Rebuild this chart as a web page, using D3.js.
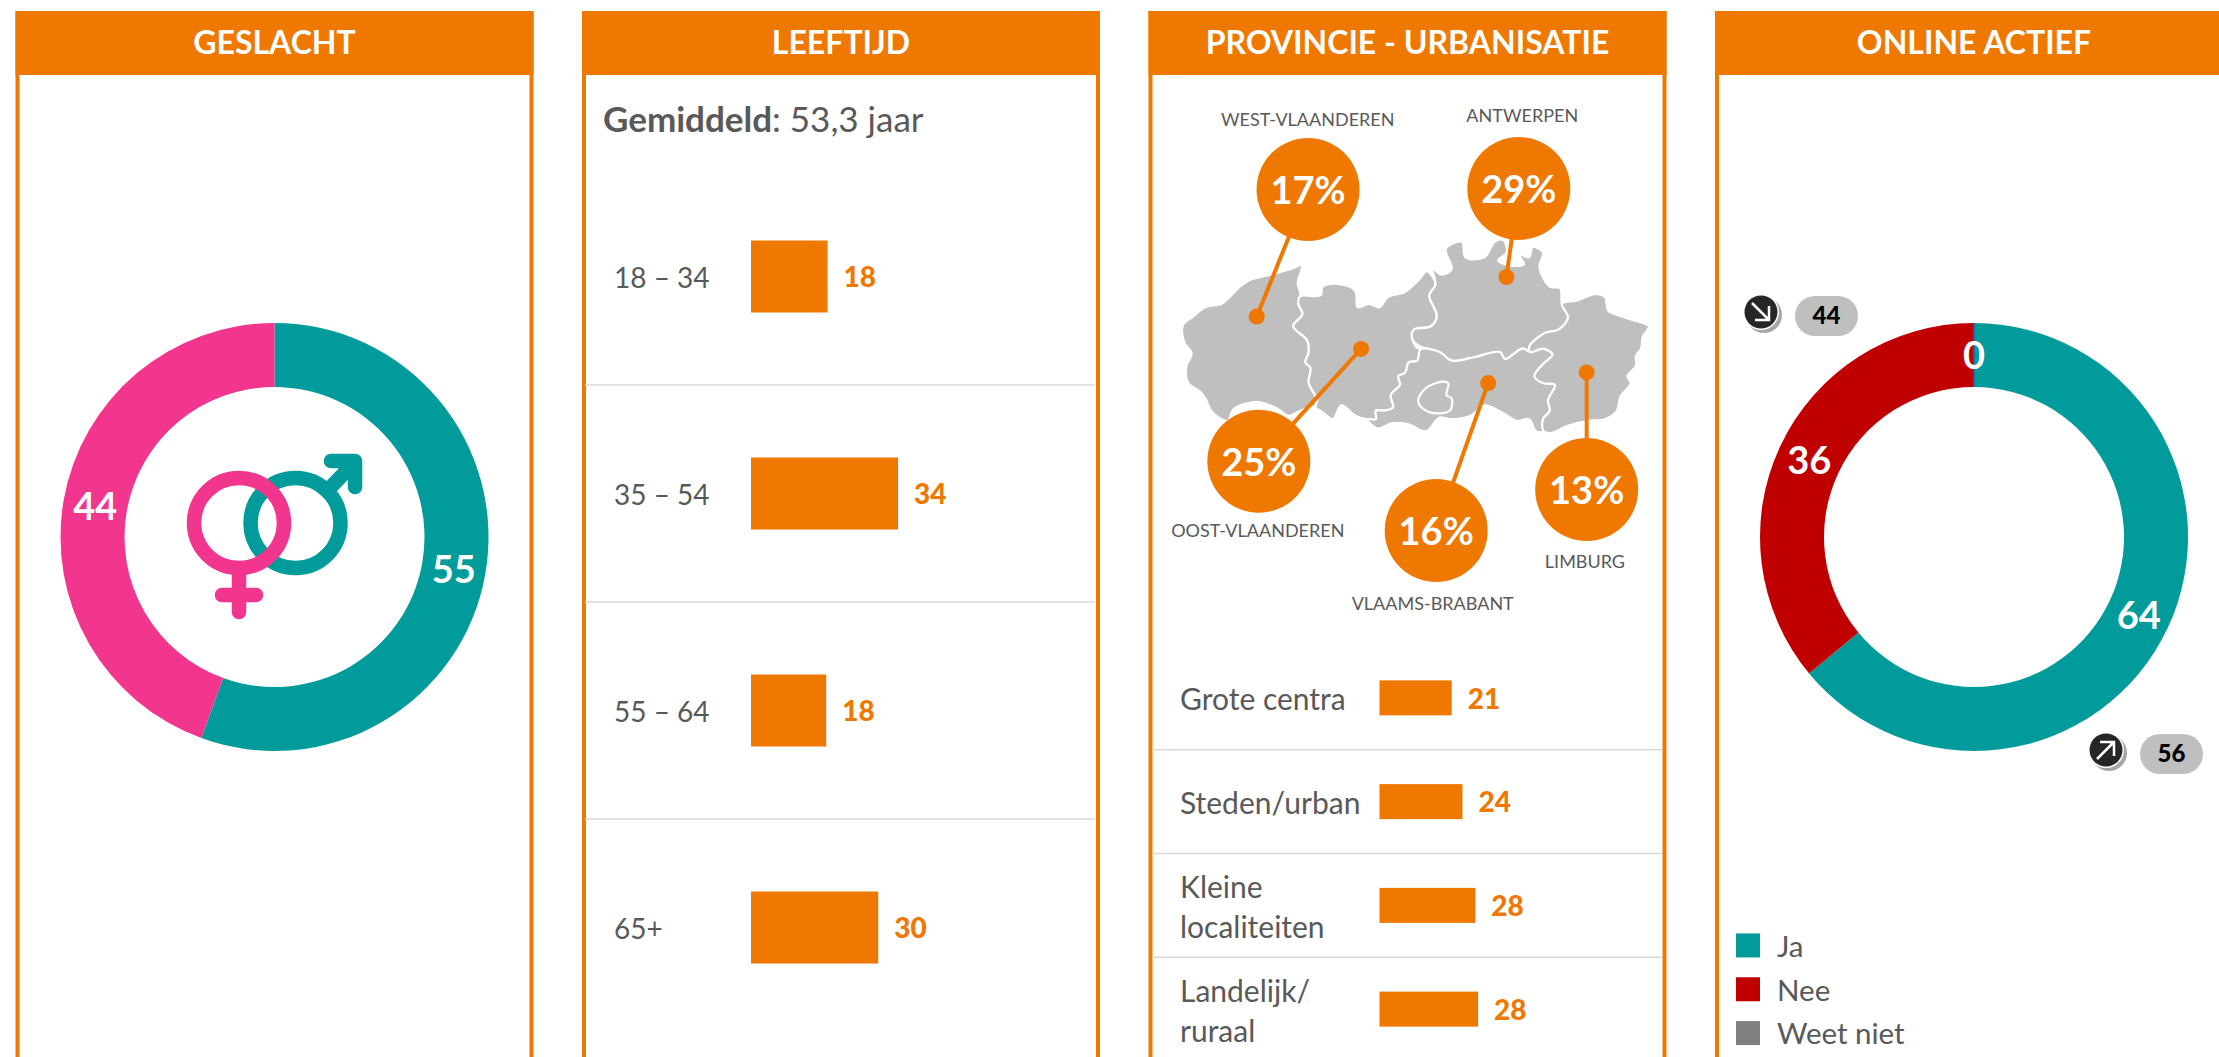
<!DOCTYPE html>
<html>
<head>
<meta charset="utf-8">
<script src="https://cdnjs.cloudflare.com/ajax/libs/d3/7.8.5/d3.min.js"></script>
<style>
    body { margin: 0; background: #fff; overflow: hidden; }
    svg { display: block; }
    text { font-family: Lato, "Open Sans", sans-serif; }
</style>
</head>
<body>
<div class="chart"></div>
<script>
const panelTitles = ['GESLACHT', 'LEEFTIJD', 'PROVINCIE - URBANISATIE', 'ONLINE ACTIEF'];

const genderLabels = ['Man', 'Vrouw'];
const genderValues = [55, 44];

const ageLabels = ['18 – 34', '35 – 54', '55 – 64', '65+'];
const ageValues = [17.8, 34.2, 17.5, 29.6];

const provinceNames = ['WEST-VLAANDEREN', 'ANTWERPEN', 'OOST-VLAANDEREN', 'VLAAMS-BRABANT', 'LIMBURG'];
const provinceValues = [17, 29, 25, 16, 13];

const urbanLabels = ['Grote centra', 'Steden/urban', 'Kleine|localiteiten', 'Landelijk/|ruraal'];
const urbanValues = [20.8, 23.9, 27.6, 28.4];

const onlineLabels = ['Ja', 'Nee', 'Weet niet'];
const onlineValues = [64, 36, 0];
const onlineBadges = [44, 56];

// map outlines (in 1568px crop units)
const westVl = [[125,710],[150,690],[190,660],[240,648],[290,600],[320,580],[380,565],[440,548],[470,538],[458,590],[466,620],[460,650],[472,680],[445,715],[485,755],[490,790],[480,820],[495,835],[490,880],[510,920],[510,945],[470,958],[430,975],[400,955],[345,935],[300,942],[270,958],[255,990],[210,965],[190,925],[175,905],[140,880],[135,830],[150,795],[128,760]];
const oostVl = [[465,628],[525,625],[530,600],[575,592],[625,612],[632,660],[665,650],[695,660],[720,630],[770,615],[810,580],[832,555],[845,565],[858,595],[840,625],[862,685],[845,715],[795,725],[790,750],[805,778],[815,782],[805,815],[780,820],[770,850],[750,860],[755,885],[728,915],[735,950],[710,960],[685,960],[685,985],[660,985],[625,975],[585,945],[560,985],[530,965],[510,950],[515,930],[490,880],[495,835],[480,820],[490,790],[485,755],[445,715],[472,680],[460,650]];
const antwerpen = [[850,548],[875,565],[905,550],[888,490],[935,470],[945,515],[1000,515],[1030,470],[1055,465],[1065,500],[1040,525],[1090,540],[1115,535],[1100,505],[1130,515],[1140,485],[1170,500],[1160,545],[1190,600],[1220,605],[1225,650],[1243,690],[1215,725],[1175,735],[1130,775],[1135,790],[1110,780],[1060,810],[1045,790],[970,805],[905,815],[870,790],[810,772],[790,750],[795,725],[845,715],[862,685],[840,625],[858,595]];
const vlBrabant = [[815,782],[870,790],[905,815],[970,805],[1045,790],[1060,810],[1110,780],[1135,790],[1170,780],[1198,797],[1170,825],[1145,860],[1170,880],[1205,885],[1185,930],[1190,960],[1170,985],[1172,1020],[1150,1020],[1130,985],[1095,990],[1050,965],[1000,945],[960,975],[900,985],[870,980],[830,1020],[780,1000],[730,997],[690,1012],[660,985],[685,985],[685,960],[710,960],[735,950],[728,915],[755,885],[750,860],[770,850],[780,820],[805,815]];
const brussel = [[820,905],[860,880],[895,880],[890,915],[905,925],[900,960],[860,968],[830,960],[808,935]];
const limburg = [[1225,650],[1270,640],[1320,622],[1350,630],[1360,670],[1395,685],[1440,700],[1478,715],[1460,745],[1455,780],[1440,800],[1440,830],[1415,860],[1425,880],[1395,920],[1385,960],[1350,985],[1300,990],[1240,1005],[1195,1025],[1172,1020],[1170,985],[1190,960],[1185,930],[1205,885],[1170,880],[1145,860],[1170,825],[1198,797],[1170,780],[1135,790],[1130,775],[1175,735],[1215,725],[1243,690]];

// same order as provinceNames
const bubblePos = [[488,318],[1100,315],[345,1107],[860,1308],[1297,1189]];
const dotPos = [[339,687],[1064,572],[642,781],[1011,880],[1297,849]];
const namePos = [[487,116],[1110,105],[342,1310],[850,1520],[1292,1400]];

const orange = '#EF7800';
const teal = '#009B9A';
const pink = '#F2358D';
const red = '#C00000';
const grey = '#595959';

const width = 2219;
const height = 1057;
const svg = d3.select('.chart')
    .append('svg')
    .attr('width', width)
    .attr('height', height);

// panels
const panelX = d3.scaleBand()
    .domain(panelTitles)
    .range([15.5, 15.5 + 4 * 566.5])
    .paddingInner(0);
const panelW = 518;
const panels = svg.selectAll('.panel')
    .data(panelTitles)
    .enter()
    .append('g')
    .attr('class', 'panel')
    .attr('transform', d => `translate(${panelX(d)},11)`);
panels.append('rect')
    .attr('x', 2)
    .attr('y', 2)
    .attr('width', panelW - 4)
    .attr('height', 1100)
    .attr('fill', '#fff')
    .attr('stroke', orange)
    .attr('stroke-width', 4);
panels.append('rect')
    .attr('width', panelW)
    .attr('height', 64)
    .attr('fill', orange);
panels.append('text')
    .attr('x', panelW / 2)
    .attr('y', 32)
    .attr('dy', '.35em')
    .attr('text-anchor', 'middle')
    .attr('font-size', 32)
    .attr('font-weight', 700)
    .attr('fill', '#fff')
    .text(d => d);

// donuts
function donut(cx, cy, values, colors) {
    const pie = d3.pie().sort(null)(values);
    const arc = d3.arc().innerRadius(150).outerRadius(214);
    const g = svg.append('g').attr('transform', `translate(${cx},${cy})`);
    g.selectAll('path')
        .data(pie)
        .enter()
        .append('path')
        .attr('d', arc)
        .attr('fill', (d, i) => colors[i])
        .attr('stroke', d => d.value === 0 ? colors[2] : 'none')
        .attr('stroke-width', 1.5);
    g.selectAll('text')
        .data(pie)
        .enter()
        .append('text')
        .attr('transform', d => `translate(${arc.centroid(d)})`)
        .attr('dy', '.38em')
        .attr('text-anchor', 'middle')
        .attr('font-size', 38)
        .attr('font-weight', 700)
        .attr('fill', '#fff')
        .text(d => d.value);
}
donut(274.5, 537, genderValues, [teal, pink]);
donut(1974, 537, onlineValues, [teal, red, '#0070C0']);

// gender icon
const icon = svg.append('g')
    .attr('fill', 'none')
    .attr('stroke-width', 14.5)
    .attr('stroke-linecap', 'round')
    .attr('stroke-linejoin', 'round');
icon.append('circle').attr('cx', 295.5).attr('cy', 523).attr('r', 45).attr('stroke', teal);
icon.append('path').attr('d', 'M327,491L354,463M331,461H355V487').attr('stroke', teal);
icon.append('circle').attr('cx', 239).attr('cy', 523).attr('r', 45).attr('stroke', pink);
icon.append('path').attr('d', 'M239,570V612M222,595H256').attr('stroke', pink);

// row charts
function rows(labels, values, opt) {
    const y = d3.scaleBand().domain(labels).range(opt.yRange);
    const x = d3.scaleLinear().domain([0, opt.maxValue]).range([0, opt.maxWidth]);
    const g = svg.append('g');
    g.selectAll('line')
        .data(labels.slice(1))
        .enter()
        .append('line')
        .attr('x1', opt.x0)
        .attr('x2', opt.x0 + panelW - 8)
        .attr('y1', d => y(d))
        .attr('y2', d => y(d))
        .attr('stroke', '#D9D9D9')
        .attr('stroke-width', 1.5);
    g.selectAll('rect')
        .data(labels)
        .enter()
        .append('rect')
        .attr('x', opt.barX)
        .attr('y', d => y(d) + y.bandwidth() / 2 - opt.barH / 2)
        .attr('width', (d, i) => x(values[i]))
        .attr('height', opt.barH)
        .attr('fill', orange);
    g.selectAll('.val')
        .data(labels)
        .enter()
        .append('text')
        .attr('class', 'val')
        .attr('x', (d, i) => opt.barX + x(values[i]) + 16)
        .attr('y', d => y(d) + y.bandwidth() / 2 + 1)
        .attr('dy', '.35em')
        .attr('font-size', opt.valSize)
        .attr('font-weight', 900)
        .attr('fill', orange)
        .text((d, i) => d3.format('.0f')(values[i]));
    g.selectAll('.lab')
        .data(labels)
        .enter()
        .append('text')
        .attr('class', 'lab')
        .attr('y', d => y(d) + y.bandwidth() / 2 + 2)
        .attr('font-size', opt.labSize)
        .attr('fill', grey)
        .each(function(d) {
            const lines = d.split('|');
            d3.select(this).selectAll('tspan')
                .data(lines)
                .enter()
                .append('tspan')
                .attr('x', opt.labX)
                .attr('dy', (l, i) => i === 0 ? `${0.35 - (lines.length - 1) * 0.665}em` : '1.33em')
                .text(l => l);
        });
}
rows(ageLabels, ageValues, {
    yRange: [168, 1036], x0: 585, barX: 751, barH: 72, maxValue: 34.2, maxWidth: 147,
    labX: 614, labSize: 28, valSize: 28
});
rows(urbanLabels, urbanValues, {
    yRange: [646, 1061], x0: 1152, barX: 1379.5, barH: 35, maxValue: 28.4, maxWidth: 98.6,
    labX: 1180, labSize: 30, valSize: 28
});

// average age
const avg = svg.append('text')
    .attr('x', 603)
    .attr('y', 132)
    .attr('font-size', 35)
    .attr('fill', grey);
avg.append('tspan').attr('font-weight', 700).text('Gemiddeld');
avg.append('tspan').text(': 53,3 jaar');

// map
const mapX = d3.scaleLinear().domain([0, 1568]).range([1140, 1680]);
const mapY = d3.scaleLinear().domain([0, 1568]).range([80, 620]);
const outline = d3.line()
    .x(d => mapX(d[0]))
    .y(d => mapY(d[1]))
    .curve(d3.curveCatmullRomClosed.alpha(0.5));
svg.append('g')
    .selectAll('path')
    .data([westVl, oostVl, antwerpen, vlBrabant, limburg, brussel])
    .enter()
    .append('path')
    .attr('d', outline)
    .attr('fill', '#BFBFBF')
    .attr('stroke', '#fff')
    .attr('stroke-width', 2.2);

const callouts = svg.selectAll('.callout')
    .data(provinceNames)
    .enter()
    .append('g')
    .attr('class', 'callout');
callouts.append('line')
    .attr('x1', (d, i) => mapX(bubblePos[i][0]))
    .attr('y1', (d, i) => mapY(bubblePos[i][1]))
    .attr('x2', (d, i) => mapX(dotPos[i][0]))
    .attr('y2', (d, i) => mapY(dotPos[i][1]))
    .attr('stroke', orange)
    .attr('stroke-width', 4);
callouts.append('circle')
    .attr('cx', (d, i) => mapX(dotPos[i][0]))
    .attr('cy', (d, i) => mapY(dotPos[i][1]))
    .attr('r', 8)
    .attr('fill', orange);
callouts.append('circle')
    .attr('cx', (d, i) => mapX(bubblePos[i][0]))
    .attr('cy', (d, i) => mapY(bubblePos[i][1]))
    .attr('r', 51.5)
    .attr('fill', orange);
callouts.append('text')
    .attr('x', (d, i) => mapX(bubblePos[i][0]))
    .attr('y', (d, i) => mapY(bubblePos[i][1]))
    .attr('dy', '.38em')
    .attr('text-anchor', 'middle')
    .attr('font-size', 38)
    .attr('font-weight', 700)
    .attr('fill', '#fff')
    .text((d, i) => provinceValues[i] + '%');
callouts.append('text')
    .attr('x', (d, i) => mapX(namePos[i][0]))
    .attr('y', (d, i) => mapY(namePos[i][1]))
    .attr('dy', '.35em')
    .attr('text-anchor', 'middle')
    .attr('font-size', 18)
    .attr('fill', grey)
    .text(d => d);

// online badges
const badges = svg.selectAll('.badge')
    .data(onlineBadges)
    .enter()
    .append('g')
    .attr('class', 'badge')
    .attr('transform', (d, i) => i === 0 ? 'translate(1761,312)' : 'translate(2106,750)');
badges.append('circle').attr('cx', 3).attr('cy', 3).attr('r', 18).attr('fill', '#A6A6A6');
badges.append('circle').attr('r', 18).attr('fill', '#fff');
badges.append('circle').attr('r', 16.5).attr('fill', '#262626');
badges.append('path')
    .attr('d', (d, i) => i === 0 ? 'M-9,-9L8,8M-6,8H8V-6' : 'M-9,9L8,-8M-6,-8H8V6')
    .attr('fill', 'none')
    .attr('stroke', '#fff')
    .attr('stroke-width', 2.5);
badges.append('rect')
    .attr('x', 34)
    .attr('y', -16)
    .attr('width', 63)
    .attr('height', 40)
    .attr('rx', 20)
    .attr('fill', '#BFBFBF');
badges.append('text')
    .attr('x', 65.5)
    .attr('y', 4)
    .attr('dy', '.35em')
    .attr('text-anchor', 'middle')
    .attr('font-size', 24)
    .attr('font-weight', 900)
    .attr('fill', '#000')
    .text(d => d);

// legend
const legendY = d3.scaleBand().domain(onlineLabels).range([923.5, 1055]);
const legend = svg.selectAll('.legend')
    .data(onlineLabels)
    .enter()
    .append('g')
    .attr('class', 'legend')
    .attr('transform', d => `translate(1736,${legendY(d) + legendY.bandwidth() / 2})`);
legend.append('rect')
    .attr('y', -12)
    .attr('width', 24)
    .attr('height', 24)
    .attr('fill', (d, i) => [teal, red, '#808080'][i]);
legend.append('text')
    .attr('x', 41)
    .attr('y', 1)
    .attr('dy', '.35em')
    .attr('font-size', 29.5)
    .attr('fill', grey)
    .text(d => d);
</script>
</body>
</html>
